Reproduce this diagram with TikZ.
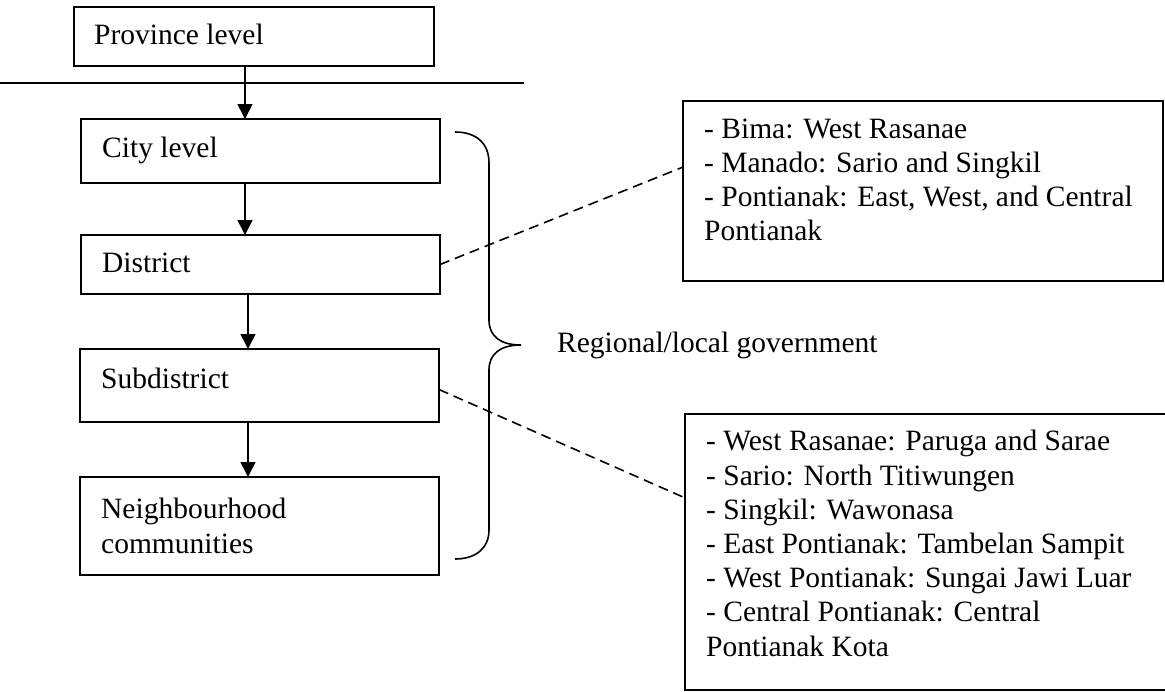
\documentclass[tikz,border=0pt]{standalone}
\usepackage{fontspec}
\setmainfont{Liberation Serif}
\usetikzlibrary{arrows.meta,calc}
\begin{document}
\begin{tikzpicture}[x=1pt,y=-1pt,
  box/.style={draw,line width=1.6pt,inner sep=0pt,outer sep=0pt,anchor=north west},
  txt/.style={anchor=base west,inner sep=0pt,align=left,font=\fontsize{29.5}{34.2}\selectfont},
  arr/.style={line width=1.6pt,-{Triangle[width=15pt,length=15pt]}},
  dashline/.style={line width=1.6pt,dash pattern=on 10pt off 6pt},
  bracestyle/.style={line width=1.6pt}]
\useasboundingbox (0,0) rectangle (1165,691);
% boxes
\node[box,minimum width=360pt,minimum height=59pt] (prov) at (74,7) {};
\node[box,minimum width=359pt,minimum height=64pt] (city) at (81,119) {};
\node[box,minimum width=359pt,minimum height=59pt] (dist) at (81,235) {};
\node[box,minimum width=359pt,minimum height=73pt] (sub) at (80,349) {};
\node[box,minimum width=359pt,minimum height=98pt] (nbh) at (80,477) {};
\node[box,minimum width=480pt,minimum height=180pt] (tbox) at (683,101) {};
\node[box,minimum width=490pt,minimum height=276pt] (bbox) at (685,414) {};
% texts (base = baseline of the last line)
\node[txt] (provt) at (94,44) {Province level};
\node[txt] (cityt) at (102,157) {City level};
\node[txt] (distt) at (102,272) {District};
\node[txt] (subt) at (101,388) {Subdistrict};
\node[txt] (nbht) at (101,553) {Neighbourhood\\communities};
\node[txt] (regt) at (557,352) {Regional/local government};
\node[txt] (tboxt) at (704,240.6) {- Bima: West Rasanae\\- Manado: Sario and Singkil\\- Pontianak: East, West, and Central\\Pontianak};
\node[txt] (bboxt) at (706,656) {- West Rasanae: Paruga and Sarae\\- Sario: North Titiwungen\\- Singkil: Wawonasa\\- East Pontianak: Tambelan Sampit\\- West Pontianak: Sungai Jawi Luar\\- Central Pontianak: Central\\Pontianak Kota};
% separator line
\coordinate (sepL) at (0,83);
\coordinate (sepR) at (524,83);
\draw[line width=1.6pt] (sepL) -- (sepR);
% arrows
\coordinate (a1) at (245,0);
\coordinate (a2) at (248,0);
\draw[arr] (prov.south -| a1) -- (city.north -| a1);
\draw[arr] (city.south -| a1) -- (dist.north -| a1);
\draw[arr] (dist.south -| a2) -- (sub.north -| a2);
\draw[arr] (sub.south -| a2) -- (nbh.north -| a2);
% dashed connectors
\draw[dashline] (dist.east) -- ($(tbox.north west)!0.367!(tbox.south west)$);
\draw[dashline] ([yshift=-4pt]sub.east) -- ($(bbox.north west)!0.304!(bbox.south west)$);
% brace
\draw[bracestyle] (455,132) .. controls (476,132) and (489,143) .. (489,163) -- (489,320)
  .. controls (489,336) and (500,345) .. (521,345)
  .. controls (500,345) and (489,354) .. (489,370) -- (489,530)
  .. controls (489,548) and (476,559) .. (455,559);
\end{tikzpicture}
\end{document}
